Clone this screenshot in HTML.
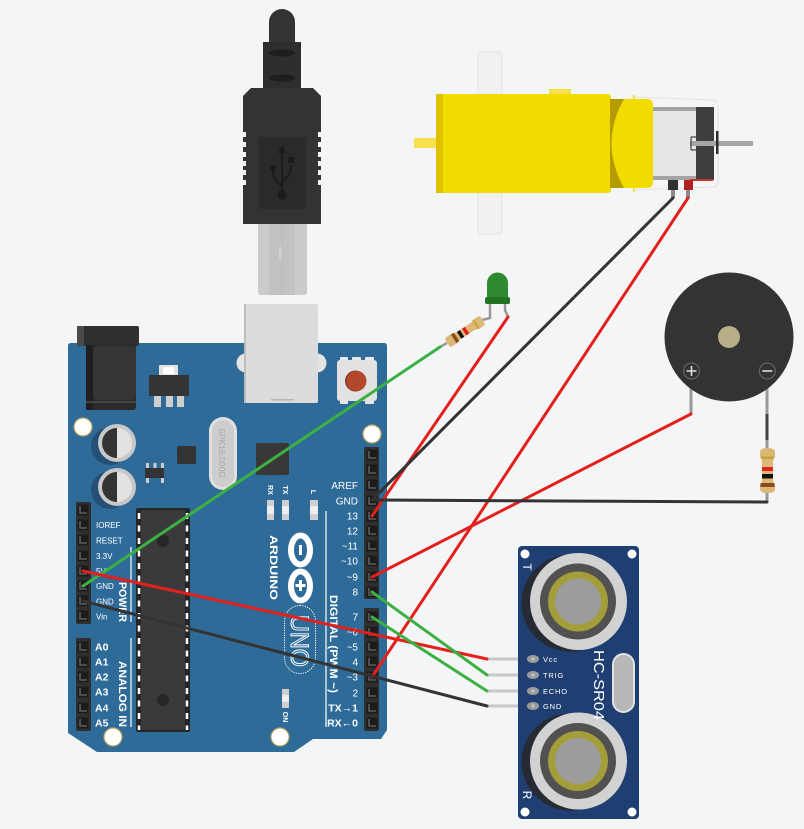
<!DOCTYPE html>
<html><head><meta charset="utf-8"><style>
html,body{margin:0;padding:0;background:#f4f5f7;}
svg{display:block}
text{font-family:"Liberation Sans",sans-serif}
</style></head><body>
<svg width="804" height="829" viewBox="0 0 804 829" xmlns="http://www.w3.org/2000/svg">
<defs>
<g id="pin"><rect x="-5.5" y="-5.5" width="11" height="11" fill="#1c1c1c"/><path d="M-3,-4V3H4" stroke="#5c5c5c" stroke-width="1.6" fill="none"/></g>
<g id="hole"><circle r="9" fill="#ffffff" stroke="#b9a45e" stroke-width="1.2"/></g>
</defs>
<rect width="804" height="829" fill="#f4f5f7"/>

<!-- MOTOR -->
<rect x="478" y="52" width="24" height="182" rx="3" fill="#f1f1f1" stroke="#e3e3e3"/>
<rect x="414" y="138" width="23" height="10" fill="#f7e24c"/>
<rect x="549" y="89" width="22" height="6" fill="#f6e14a"/>
<path d="M634,97 L712,100 Q718,101 718,106 L718,182 Q718,187 712,187 L634,190" fill="none" stroke="#e2e2e2" stroke-width="1"/>
<rect x="633" y="95" width="1.5" height="4" fill="#f2dc00"/>
<rect x="633" y="188" width="1.5" height="4" fill="#f2dc00"/>
<rect x="436" y="94" width="175" height="99" rx="3" fill="#f2dc00"/>
<rect x="436" y="94" width="7" height="99" fill="#e1c000"/>
<rect x="610" y="99" width="43" height="89" rx="5" fill="#f2dc00"/>
<path d="M610,99 L624,99 Q599,143 624,188 L610,188 Z" fill="#b39b00"/>
<rect x="653" y="107" width="44" height="73" fill="#e6e6e8"/>
<rect x="653" y="107" width="44" height="4" fill="#a3a3a3"/>
<rect x="653" y="176" width="44" height="4" fill="#a3a3a3"/>
<rect x="696" y="107" width="18" height="73" fill="#3e3e40"/>
<rect x="690" y="179" width="23" height="2" fill="#c0392b"/>
<rect x="690" y="141" width="63" height="5" fill="#a6a6a6"/>
<path d="M691,137V150M691,137H700M691,150H700" stroke="#444" stroke-width="1.2" fill="none"/>
<rect x="716" y="131" width="2.5" height="23" fill="#2b2b2b"/>
<rect x="668" y="180" width="10" height="10" fill="#303030"/>
<rect x="671" y="190" width="4" height="8" fill="#8a8a8a"/>
<rect x="684" y="180" width="9" height="10" fill="#b52020"/>
<rect x="686" y="190" width="4" height="8" fill="#8a8a8a"/>

<!-- USB PLUG -->
<path d="M269,42 L269,22 A13,13 0 0 1 295,22 L295,42 Z" fill="#333"/>
<rect x="263" y="42" width="38" height="46" fill="#2e2e2e"/>
<ellipse cx="282" cy="53" rx="13" ry="3.5" fill="#1e1e1e"/>
<ellipse cx="282" cy="78" rx="13" ry="3.5" fill="#1e1e1e"/>
<path d="M251,88 L313,88 L321,96 L321,224 L243,224 L243,96 Z" fill="#333"/>
<g fill="#f4f5f7">
<rect x="243" y="132" width="3" height="5"/><rect x="243" y="142" width="3" height="5"/><rect x="243" y="152" width="3" height="5"/><rect x="243" y="161" width="3" height="5"/><rect x="243" y="170" width="3" height="5"/><rect x="243" y="180" width="3" height="5"/>
<rect x="318" y="132" width="3" height="5"/><rect x="318" y="142" width="3" height="5"/><rect x="318" y="152" width="3" height="5"/><rect x="318" y="161" width="3" height="5"/><rect x="318" y="170" width="3" height="5"/><rect x="318" y="180" width="3" height="5"/>
</g>
<rect x="259" y="137" width="47" height="72" fill="#2a2a2a"/>
<g stroke="#1a1a1a" stroke-width="1.8" fill="none">
<path d="M282,152V195"/>
<path d="M282,186 Q273,180 273,170"/>
<path d="M282,181 Q291,176 291,165"/>
</g>
<path d="M282,145 L278,153 L286,153 Z" fill="#1a1a1a"/>
<circle cx="282" cy="195" r="4.5" fill="#1a1a1a"/>
<circle cx="273" cy="168" r="3" fill="#1a1a1a"/>
<rect x="288" y="157" width="6" height="6" fill="#1a1a1a"/>
<path d="M258,224 L307,224 L307,292 Q307,295 304,295 L261,295 Q258,295 258,292 Z" fill="#cbcbcb"/>
<rect x="269" y="224" width="26" height="71" fill="#c2c2c2"/>
<path d="M282,224V295" stroke="#b8b8b8" stroke-width="1"/>
<rect x="279" y="247" width="3" height="12" fill="#d0d0d0"/>

<!-- ARDUINO BOARD -->
<path d="M71,343 L384,343 Q387,343 387,346 L387,730 L381,739 L313,739 L294,752 L97,752 L68,733 L68,346 Q68,343 71,343 Z" fill="#2f6b99"/>
<!-- USB receptacle -->
<circle cx="246" cy="363" r="9.5" fill="#e4e4e4"/>
<circle cx="317" cy="363" r="9.5" fill="#e4e4e4"/>
<rect x="244" y="304" width="74" height="99" rx="2" fill="#dcdcdc"/>
<rect x="244" y="304" width="2" height="99" fill="#bdbdbd"/>
<rect x="271" y="399" width="23" height="1.5" fill="#b5b5b5"/>
<!-- DC jack -->
<rect x="77" y="326" width="62" height="20" rx="2" fill="#2f2f2f"/>
<rect x="77" y="326" width="7" height="20" fill="#4a4a4a"/>
<rect x="86" y="345" width="50" height="65" rx="3" fill="#2a2a2a"/>
<rect x="93" y="346" width="43" height="54" rx="5" fill="#353535"/>
<rect x="86" y="345" width="7" height="65" fill="#1f1f1f"/>
<rect x="86" y="401" width="50" height="2" fill="#444"/>
<!-- regulator -->
<rect x="159" y="365" width="19" height="11" rx="1" fill="#e2e2e2"/>
<rect x="163" y="367" width="11" height="7" fill="#ffffff"/>
<rect x="149" y="375" width="40" height="21" fill="#343434"/>
<rect x="154" y="396" width="7" height="11" fill="#cfcfcf"/>
<rect x="166" y="396" width="7" height="11" fill="#cfcfcf"/>
<rect x="177" y="396" width="7" height="11" fill="#cfcfcf"/>
<!-- reset button -->
<rect x="340" y="357" width="8" height="4" rx="1" fill="#e8e8e8"/>
<rect x="352" y="357" width="9" height="4" rx="1" fill="#e8e8e8"/>
<rect x="365" y="357" width="9" height="4" rx="1" fill="#e8e8e8"/>
<rect x="340" y="399" width="8" height="5" rx="1" fill="#e8e8e8"/>
<rect x="365" y="399" width="9" height="5" rx="1" fill="#e8e8e8"/>
<rect x="337" y="360" width="40" height="41" rx="3" fill="#e2e2e2"/>
<circle cx="355.5" cy="381" r="10.5" fill="#7d3a28"/>
<circle cx="356.5" cy="381" r="10" fill="#b3472c"/>
<!-- holes -->
<use href="#hole" x="83" y="427"/>
<use href="#hole" x="372" y="434"/>
<use href="#hole" x="113" y="737"/>
<use href="#hole" x="280" y="737"/>
<!-- capacitors -->
<circle cx="110" cy="446" r="19" fill="#254f74"/>
<circle cx="117" cy="443" r="19" fill="#c8c8c8"/>
<path d="M117,428 A15,15 0 0 0 117,458 Z" fill="#333"/>
<path d="M117,428 A15,15 0 0 1 117,458 Z" fill="#e2e2e2"/>
<circle cx="110" cy="490" r="19" fill="#254f74"/>
<circle cx="117" cy="487" r="19" fill="#c8c8c8"/>
<path d="M117,472 A15,15 0 0 0 117,502 Z" fill="#333"/>
<path d="M117,472 A15,15 0 0 1 117,502 Z" fill="#e2e2e2"/>
<!-- small parts -->
<rect x="177" y="446" width="19" height="18" rx="2" fill="#333"/>
<rect x="146" y="463" width="3" height="6" fill="#ccc"/><rect x="153.5" y="463" width="3" height="6" fill="#ccc"/><rect x="161" y="463" width="3" height="6" fill="#ccc"/>
<rect x="146" y="477" width="3" height="6" fill="#ccc"/><rect x="161" y="477" width="3" height="6" fill="#ccc"/>
<rect x="145" y="468" width="19" height="10" fill="#333"/>
<rect x="209" y="417" width="28" height="73" rx="14" fill="#e0e0e0"/>
<rect x="212" y="420" width="22" height="67" rx="11" fill="#cdcdcd"/>
<text transform="translate(219,453) rotate(90)" text-anchor="middle" font-size="8.5" fill="#a5a5a5">SPK16.000G</text>
<rect x="256" y="443" width="33" height="32" rx="2" fill="#383838"/>
<!-- RX TX L -->
<g font-size="7" font-weight="bold" fill="#fff">
<text transform="translate(268,490) rotate(90)" text-anchor="middle">RX</text>
<text transform="translate(283,490) rotate(90)" text-anchor="middle">TX</text>
<text transform="translate(311,492) rotate(90)" text-anchor="middle">L</text>
</g>
<g>
<rect x="267" y="500" width="7" height="20" fill="#cfcfcf"/><rect x="267" y="506" width="7" height="8" fill="#ededed"/>
<rect x="282" y="500" width="7" height="20" fill="#cfcfcf"/><rect x="282" y="506" width="7" height="8" fill="#ededed"/>
<rect x="310" y="500" width="8" height="20" fill="#cfcfcf"/><rect x="310" y="506" width="8" height="8" fill="#ededed"/>
<rect x="282" y="689" width="7" height="19" fill="#cfcfcf"/><rect x="282" y="695" width="7" height="7" fill="#ededed"/>
</g>
<text transform="translate(283,717) rotate(90)" text-anchor="middle" font-size="7" font-weight="bold" fill="#fff">ON</text>
<!-- ATmega -->
<rect x="136" y="508" width="54" height="224" rx="2" fill="#262626"/>
<rect x="141" y="510" width="44" height="220" rx="2" fill="#3a3a3c"/>
<path d="M139,513V730M187,513V730" stroke="#fff" stroke-width="2.5" stroke-dasharray="6 6.5"/>
<circle cx="163" cy="541" r="6" fill="#262626"/>
<circle cx="163" cy="700" r="6" fill="#262626"/>
<!-- logo -->
<text transform="translate(270,567.5) rotate(90)" text-anchor="middle" font-size="11" font-weight="bold" fill="#fff" textLength="65" lengthAdjust="spacingAndGlyphs">ARDUINO</text>
<ellipse cx="300.5" cy="550" rx="9.5" ry="14.5" fill="none" stroke="#fff" stroke-width="6"/>
<ellipse cx="300.5" cy="586" rx="9.5" ry="14.5" fill="none" stroke="#fff" stroke-width="6"/>
<rect x="299" y="545" width="3" height="10" fill="#fff"/>
<rect x="299" y="580" width="3" height="11" fill="#fff"/>
<rect x="295.5" y="584" width="10" height="3" fill="#fff"/>
<rect x="284.5" y="605.5" width="31" height="68" rx="15.5" fill="none" stroke="#fff" stroke-width="1" stroke-dasharray="1.2 1.2"/>
<text transform="translate(291,641) rotate(90)" text-anchor="middle" font-size="25" fill="none" stroke="#fff" stroke-width="1" textLength="52" lengthAdjust="spacingAndGlyphs">UNO</text>
<!-- headers -->
<rect x="76" y="502" width="15" height="122" rx="1.5" fill="#2f2f2f"/>
<rect x="76" y="638" width="15" height="93" rx="1.5" fill="#2f2f2f"/>
<rect x="364" y="447" width="15" height="152" rx="1.5" fill="#2f2f2f"/>
<rect x="364" y="608" width="15" height="123" rx="1.5" fill="#2f2f2f"/>
<use href="#pin" x="83" y="510"/><use href="#pin" x="83" y="525"/><use href="#pin" x="83" y="540"/><use href="#pin" x="83" y="556"/><use href="#pin" x="83" y="571"/><use href="#pin" x="83" y="586"/><use href="#pin" x="83" y="601"/><use href="#pin" x="83" y="616"/>
<use href="#pin" x="83" y="647"/><use href="#pin" x="83" y="662"/><use href="#pin" x="83" y="677"/><use href="#pin" x="83" y="692"/><use href="#pin" x="83" y="708"/><use href="#pin" x="83" y="723"/>
<use href="#pin" x="372" y="455"/><use href="#pin" x="372" y="470"/><use href="#pin" x="372" y="485"/><use href="#pin" x="372" y="501"/><use href="#pin" x="372" y="516"/><use href="#pin" x="372" y="531"/><use href="#pin" x="372" y="546"/><use href="#pin" x="372" y="561"/><use href="#pin" x="372" y="577"/><use href="#pin" x="372" y="592"/>
<use href="#pin" x="372" y="617"/><use href="#pin" x="372" y="632"/><use href="#pin" x="372" y="647"/><use href="#pin" x="372" y="662"/><use href="#pin" x="372" y="677"/><use href="#pin" x="372" y="693"/><use href="#pin" x="372" y="708"/><use href="#pin" x="372" y="723"/>
<!-- labels -->
<g font-size="8" fill="#fff">
<text x="96" y="528">IOREF</text>
<text x="96" y="543.5">RESET</text>
<text x="96" y="559">3.3V</text>
<text x="96" y="574">5V</text>
<text x="96" y="589">GND</text>
<text x="96" y="604.5">GND</text>
<text x="96" y="619.5">Vin</text>
</g>
<g font-size="10.5" font-weight="bold" fill="#fff" font-family="Liberation Mono, monospace">
<text x="95" y="650.5">A0</text><text x="95" y="665.5">A1</text><text x="95" y="680.5">A2</text><text x="95" y="695.5">A3</text><text x="95" y="711.5">A4</text><text x="95" y="726.5">A5</text>
</g>
<text transform="translate(119,602) rotate(90)" text-anchor="middle" font-size="11" font-weight="bold" fill="#fff" textLength="40" lengthAdjust="spacingAndGlyphs">POWER</text>
<text transform="translate(119,694) rotate(90)" text-anchor="middle" font-size="11" font-weight="bold" fill="#fff" textLength="66" lengthAdjust="spacingAndGlyphs">ANALOG IN</text>
<path d="M131,547V622M131,638V727M326,511V727" stroke="#fff" stroke-width="1.2"/>
<g font-size="10" fill="#fff" text-anchor="end">
<text x="358" y="489">AREF</text>
<text x="358" y="504.5">GND</text>
<text x="358" y="519.5">13</text>
<text x="358" y="534.5">12</text>
<text x="358" y="549.5">~11</text>
<text x="358" y="564.5">~10</text>
<text x="358" y="580.5">~9</text>
<text x="358" y="595.5">8</text>
<text x="358" y="620.5">7</text>
<text x="358" y="635.5">~6</text>
<text x="358" y="650.5">~5</text>
<text x="358" y="665.5">4</text>
<text x="358" y="680.5">~3</text>
<text x="358" y="696.5">2</text>
</g>
<g font-size="10.5" font-weight="bold" fill="#fff" font-family="Liberation Mono, monospace" text-anchor="end">
<text x="358" y="711.5">TX→1</text>
<text x="358" y="726.5">RX←0</text>
</g>
<text transform="translate(330,644) rotate(90)" text-anchor="middle" font-size="11" font-weight="bold" fill="#fff" textLength="98" lengthAdjust="spacingAndGlyphs">DIGITAL (PWM ~)</text>

<!-- ULTRASONIC -->
<rect x="518" y="546" width="121" height="273" rx="4" fill="#1f3f73"/>
<circle cx="525" cy="554" r="4.5" fill="#fff"/><circle cx="632" cy="554" r="4.5" fill="#fff"/>
<circle cx="525" cy="812" r="4.5" fill="#fff"/><circle cx="632" cy="812" r="4.5" fill="#fff"/>
<g>
<circle cx="570" cy="603" r="48.5" fill="#252a33"/>
<circle cx="578.5" cy="601.5" r="48.5" fill="#d2d2d2"/>
<circle cx="578" cy="601.5" r="38" fill="#515151"/>
<circle cx="578" cy="601.5" r="30" fill="#a39d3a"/>
<circle cx="578" cy="601.5" r="23" fill="#9c9c9c"/>
</g>
<g>
<circle cx="570" cy="762" r="48.5" fill="#252a33"/>
<circle cx="578.5" cy="761" r="48.5" fill="#d2d2d2"/>
<circle cx="578" cy="761" r="38" fill="#515151"/>
<circle cx="578" cy="761" r="30" fill="#a39d3a"/>
<circle cx="578" cy="761" r="23" fill="#9c9c9c"/>
</g>
<text transform="translate(523,567) rotate(90)" text-anchor="middle" font-size="12" fill="#fff">T</text>
<text transform="translate(523,795) rotate(90)" text-anchor="middle" font-size="12" fill="#fff">R</text>
<rect x="613" y="654" width="21" height="58" rx="10.5" fill="#b8b8b8" stroke="#e2e2e2" stroke-width="2"/>
<text transform="translate(594,685) rotate(90)" text-anchor="middle" font-size="15" fill="#fff" font-family="Liberation Mono, monospace" textLength="70" lengthAdjust="spacingAndGlyphs">HC-SR04</text>
<g fill="#9a9a9a">
<ellipse cx="533" cy="659" rx="6" ry="4"/><ellipse cx="533" cy="675" rx="6" ry="4"/><ellipse cx="533" cy="691" rx="6" ry="4"/><ellipse cx="533" cy="706" rx="6" ry="4"/>
</g>
<g fill="#c4c4c4">
<circle cx="533" cy="659" r="1.6"/><circle cx="533" cy="675" r="1.6"/><circle cx="533" cy="691" r="1.6"/><circle cx="533" cy="706" r="1.6"/>
</g>
<g font-size="7.5" fill="#fff" letter-spacing="0.8">
<text x="543" y="662">Vcc</text>
<text x="543" y="678">TRIG</text>
<text x="543" y="694">ECHO</text>
<text x="543" y="709">GND</text>
</g>
<g stroke="#c8c8c8" stroke-width="3">
<path d="M487,659H518M487,675H518M487,691H518M487,706H518"/>
</g>

<!-- BUZZER -->
<path d="M691,385V414" stroke="#999" stroke-width="3"/>
<path d="M767,385V414" stroke="#999" stroke-width="3"/>
<path d="M767,414V440" stroke="#444" stroke-width="3"/>
<path d="M767,440V450" stroke="#999" stroke-width="3"/>
<path d="M767,492V502" stroke="#999" stroke-width="3"/>
<circle cx="729" cy="337" r="64.5" fill="#333"/>
<circle cx="729" cy="337" r="11" fill="#b7ad86"/>
<circle cx="691.5" cy="371" r="8" fill="none" stroke="#6a6a6a" stroke-width="1"/>
<path d="M686.5,371H696.5M691.5,366V376" stroke="#ddd" stroke-width="1.6"/>
<circle cx="767.3" cy="371" r="8" fill="none" stroke="#6a6a6a" stroke-width="1"/>
<path d="M762.3,371H772.3" stroke="#ddd" stroke-width="1.6"/>
<!-- buzzer resistor -->
<path d="M760,452 Q760,448 767.5,448 Q775,448 775,452 L775,457 Q773,459 773,462 L773,480 Q773,483 775,485 L775,489 Q775,493 767.5,493 Q760,493 760,489 L760,485 Q762,483 762,480 L762,462 Q762,459 760,457 Z" fill="#dcb877"/>
<rect x="761" y="456.5" width="13" height="2.5" fill="#c9a23a"/>
<rect x="762" y="467" width="11" height="4" fill="#e8201c"/>
<rect x="762" y="474" width="11" height="4.5" fill="#111"/>
<rect x="760.5" y="483" width="14" height="4" fill="#8a4a1a"/>

<!-- LED + resistor -->
<path d="M490,303V318L482,320" stroke="#999" stroke-width="2.5" fill="none"/>
<path d="M505,303V310L508,317" stroke="#999" stroke-width="2.5" fill="none"/>
<path d="M487,298V283A10.5,10.5 0 0 1 508,283V298Z" fill="#2e8a2e"/>
<rect x="485" y="297" width="25" height="7" rx="2" fill="#237325"/>
<path d="M447,343L440,347" stroke="#999" stroke-width="2.5"/>
<g transform="translate(465,331.5) rotate(-33)">
<path d="M-21,-4 Q-21,-5.5 -17,-5.5 L-13,-5.5 Q-11,-4 -8,-4 L8,-4 Q11,-4 13,-5.5 L17,-5.5 Q21,-5.5 21,-4 L21,4 Q21,5.5 17,5.5 L13,5.5 Q11,4 8,4 L-8,4 Q-11,4 -13,5.5 L-17,5.5 Q-21,5.5 -21,4 Z" fill="#dcb877"/>
<rect x="-13.5" y="-5" width="3.5" height="10" fill="#8a4a1a"/>
<rect x="-7" y="-4" width="3.5" height="8" fill="#111"/>
<rect x="-1" y="-4" width="3.5" height="8" fill="#e8201c"/>
<rect x="12" y="-5" width="2" height="10" fill="#c9a23a"/>
</g>

<!-- WIRES -->
<g stroke-width="3" stroke-linecap="round" fill="none">
<path d="M440,347L83,586" stroke="#3db043"/>
<path d="M508,317L372,516" stroke="#e3201b"/>
<path d="M673,198L372,500" stroke="#333"/>
<path d="M688,198L372,677" stroke="#e3201b"/>
<path d="M691,414L372,577" stroke="#e3201b"/>
<path d="M767,502L372,500" stroke="#333"/>
<path d="M83,571L487,659" stroke="#e3201b"/>
<path d="M83,601L487,706" stroke="#333"/>
<path d="M372,592L487,675" stroke="#3db043"/>
<path d="M372,617L487,691" stroke="#3db043"/>
</g>
</svg>
</body></html>
